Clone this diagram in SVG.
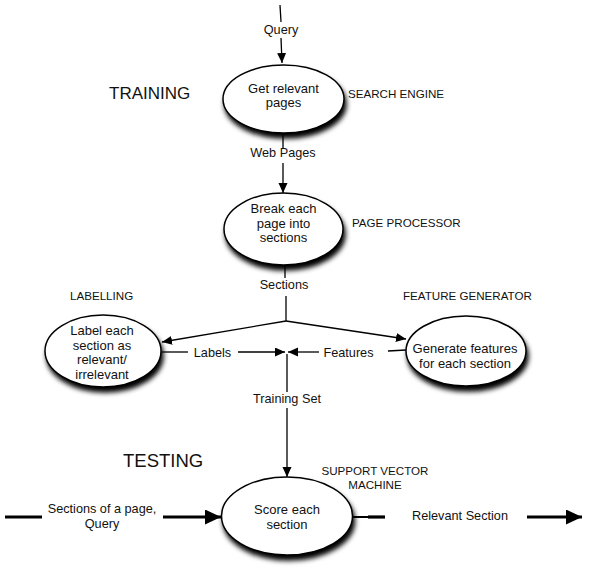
<svg xmlns="http://www.w3.org/2000/svg" width="609" height="578" viewBox="0 0 609 578">
<defs>
<style>
text{font-family:"Liberation Sans",Arial,sans-serif;fill:#111}
.node{font-size:13px;text-anchor:middle}
.lbl{font-size:12.7px;text-anchor:middle}
.cap{font-size:11.6px}
.big{font-size:17px}
.el{fill:#fff;stroke:#000;stroke-width:1.5;filter:url(#sh)}
.ln{stroke:#000;stroke-width:1.3;fill:none}
.thick{stroke:#000;stroke-width:3.2;fill:none}
</style>
<filter id="sh" x="-20%" y="-20%" width="150%" height="160%">
<feGaussianBlur in="SourceAlpha" stdDeviation="2.6" result="b"/>
<feOffset in="b" dx="1.5" dy="5" result="o"/>
<feComponentTransfer in="o" result="s"><feFuncA type="linear" slope="1"/></feComponentTransfer>
<feMerge><feMergeNode in="s"/><feMergeNode in="SourceGraphic"/></feMerge>
</filter>
<marker id="ah" markerUnits="userSpaceOnUse" markerWidth="12" markerHeight="10" refX="10" refY="4.5" orient="auto">
<path d="M0,0 L10,4.5 L0,9 Z" fill="#000"/>
</marker>
<marker id="bh" markerUnits="userSpaceOnUse" markerWidth="18" markerHeight="16" refX="16" refY="7.5" orient="auto">
<path d="M0,0 L16,7.5 L0,15 Z" fill="#000"/>
</marker>
</defs>

<g id="titles">
<text class="big" x="109" y="99">TRAINING</text>
<text class="big" x="123" y="467" style="font-size:18.5px">TESTING</text>
</g>

<g id="connectors">
<line class="ln" x1="280" y1="5" x2="281" y2="22"/>
<line class="ln" x1="281" y1="38" x2="282" y2="63" marker-end="url(#ah)"/>
<line class="ln" x1="283" y1="133" x2="283" y2="148"/>
<line class="ln" x1="283" y1="163" x2="283" y2="193" marker-end="url(#ah)"/>
<line class="ln" x1="285" y1="265" x2="285" y2="278"/>
<line class="ln" x1="286" y1="296" x2="286" y2="321"/>
<line class="ln" x1="286" y1="321" x2="162" y2="342" marker-end="url(#ah)"/>
<line class="ln" x1="286" y1="321" x2="406" y2="339" marker-end="url(#ah)"/>
<line class="ln" x1="162" y1="352" x2="188" y2="352"/>
<line class="ln" x1="238" y1="352" x2="285" y2="352" marker-end="url(#ah)"/>
<line class="ln" x1="406" y1="350" x2="388" y2="351"/>
<line class="ln" x1="319" y1="352" x2="288" y2="352" marker-end="url(#ah)"/>
<line class="ln" x1="287" y1="354" x2="287" y2="392"/>
<line class="ln" x1="287" y1="408" x2="287" y2="477" marker-end="url(#ah)"/>
<line class="thick" x1="5" y1="517" x2="42" y2="517"/>
<line class="thick" x1="163" y1="517" x2="221" y2="517" marker-end="url(#bh)"/>
<line class="ln" x1="352" y1="517" x2="368" y2="517" style="stroke-width:2"/>
<line class="thick" x1="368" y1="517" x2="385" y2="517"/>
<line class="thick" x1="527" y1="517" x2="582" y2="517" marker-end="url(#bh)"/>
<text class="lbl" x="281" y="34">Query</text>
<text class="lbl" x="283" y="157">Web Pages</text>
<text class="lbl" x="284" y="289">Sections</text>
<text class="lbl" x="212.5" y="357">Labels</text>
<text class="lbl" x="348.5" y="357">Features</text>
<text class="lbl" x="287" y="403">Training Set</text>
<text class="lbl" x="102" y="513">Sections of a page,</text>
<text class="lbl" x="102" y="528">Query</text>
<text class="lbl" x="460" y="520">Relevant Section</text>
</g>

<g id="node-search">
<ellipse class="el" cx="283.5" cy="99" rx="60.5" ry="34"/>
<text class="node" x="283.5" y="93">Get relevant</text>
<text class="node" x="283.5" y="107">pages</text>
<text class="cap" x="348" y="98">SEARCH ENGINE</text>
</g>

<g id="node-page">
<ellipse class="el" cx="283.5" cy="229" rx="59.5" ry="36"/>
<text class="node" x="283.5" y="213">Break each</text>
<text class="node" x="283.5" y="227.5">page into</text>
<text class="node" x="283.5" y="242">sections</text>
<text class="cap" x="352" y="227">PAGE PROCESSOR</text>
</g>

<g id="node-label">
<ellipse class="el" cx="103" cy="351" rx="58" ry="36"/>
<text class="node" x="102" y="335">Label each</text>
<text class="node" x="102" y="349.5">section as</text>
<text class="node" x="102" y="364">relevant/</text>
<text class="node" x="102" y="378.5">irrelevant</text>
<text class="cap" x="70" y="300">LABELLING</text>
</g>

<g id="node-feature">
<ellipse class="el" cx="466" cy="351" rx="60" ry="35"/>
<text class="node" x="465" y="353">Generate features</text>
<text class="node" x="465" y="367.5">for each section</text>
<text class="cap" x="403" y="300">FEATURE GENERATOR</text>
</g>

<g id="node-svm">
<ellipse class="el" cx="287" cy="516" rx="65.5" ry="39"/>
<text class="node" x="287" y="514">Score each</text>
<text class="node" x="287" y="528.5">section</text>
<text class="cap" x="375" y="475" text-anchor="middle">SUPPORT VECTOR</text>
<text class="cap" x="375" y="489" text-anchor="middle">MACHINE</text>
</g>
</svg>
